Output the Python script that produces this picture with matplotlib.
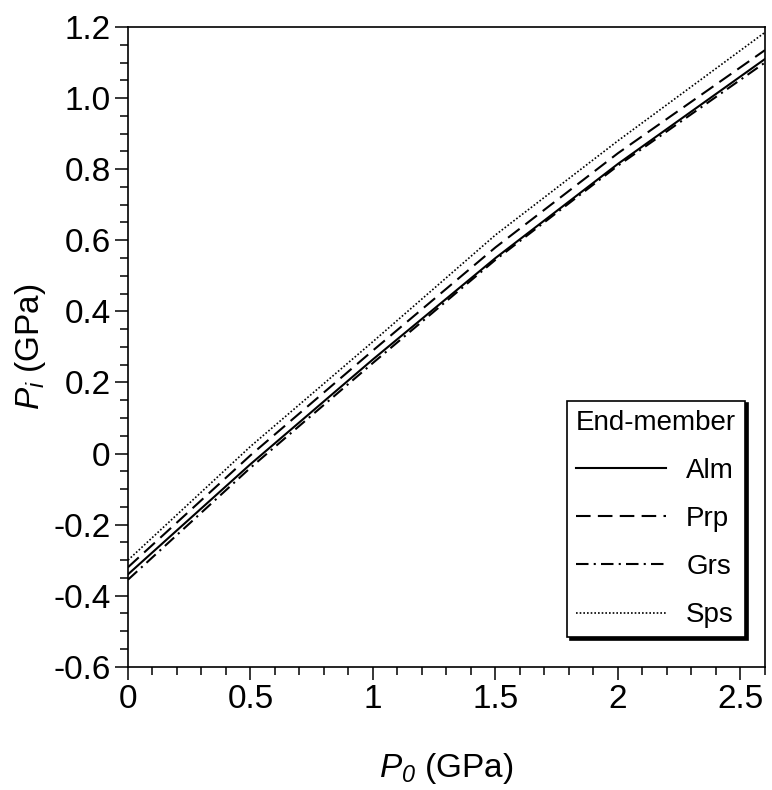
import matplotlib.pyplot as plt
from matplotlib.ticker import MultipleLocator, FixedFormatter, FixedLocator

plt.rcParams['font.family'] = ['Liberation Sans', 'DejaVu Sans']
# math part of the axis labels is fully italic (subscripts included)
plt.rcParams['mathtext.fontset'] = 'custom'
plt.rcParams['mathtext.rm'] = 'Liberation Sans:italic'
plt.rcParams['mathtext.it'] = 'Liberation Sans:italic'

# Inclusion pressure vs. host pressure for garnet end-members
p0 = [0.0, 0.5, 1.0, 1.5, 2.0, 2.6]
pi_alm = [-0.340, -0.030, 0.265, 0.550, 0.815, 1.110]
pi_prp = [-0.320, -0.005, 0.290, 0.580, 0.845, 1.135]
pi_grs = [-0.355, -0.040, 0.255, 0.545, 0.810, 1.100]
pi_sps = [-0.300, 0.020, 0.315, 0.615, 0.880, 1.185]

xticks = [0, 0.5, 1.0, 1.5, 2.0, 2.5]
xlabels = ['0', '0.5', '1', '1.5', '2', '2.5']
yticks = [-0.6, -0.4, -0.2, 0.0, 0.2, 0.4, 0.6, 0.8, 1.0, 1.2]
ylabels = ['-0.6', '-0.4', '-0.2', '0', '0.2', '0.4', '0.6', '0.8', '1.0', '1.2']

fig = plt.figure(figsize=(7.72, 7.90), dpi=100)
ax = fig.add_axes([0.1658, 0.156, 0.8251, 0.8098])

lw = 1.5
ax.plot(p0, pi_alm, color='black', lw=lw, ls='-', label='Alm')
ax.plot(p0, pi_prp, color='black', lw=lw, ls=(0, (7, 3.5)), label='Prp')
ax.plot(p0, pi_grs, color='black', lw=lw, ls=(0, (6, 2.5, 1, 2.5)), label='Grs')
ax.plot(p0, pi_sps, color='black', lw=1.2, ls=(0, (1, 1.2)), label='Sps')

ax.set_xlim(0, 2.6)
ax.set_ylim(-0.6, 1.2)
ax.xaxis.set_major_locator(FixedLocator(xticks))
ax.xaxis.set_major_formatter(FixedFormatter(xlabels))
ax.yaxis.set_major_locator(FixedLocator(yticks))
ax.yaxis.set_major_formatter(FixedFormatter(ylabels))
ax.xaxis.set_minor_locator(MultipleLocator(0.1))
ax.yaxis.set_minor_locator(MultipleLocator(0.05))
ax.tick_params(which='major', direction='out', length=9.5, width=1.1,
               labelsize=24, pad=3)
ax.tick_params(which='minor', direction='out', length=5.5, width=1.1)
for s in ax.spines.values():
    s.set_linewidth(1.2)

ax.set_xlabel(r'$P_0$ (GPa)', fontsize=24, labelpad=26)
ax.set_ylabel(r'$P_i$ (GPa)', fontsize=24, labelpad=4)

leg = ax.legend(title='End-member', loc='lower right',
                bbox_to_anchor=(0.9686, 0.046), fontsize=20,
                title_fontsize=20, handlelength=3.25, handletextpad=0.72,
                labelspacing=0.8, borderpad=0.32, borderaxespad=0,
                fancybox=False, alignment='left',
                shadow={'color': 'black', 'alpha': 1.0})
leg.get_frame().set_edgecolor('black')
leg.get_frame().set_linewidth(1.2)
leg.get_frame().set_alpha(1.0)

fig.savefig('out.png', dpi=100)
